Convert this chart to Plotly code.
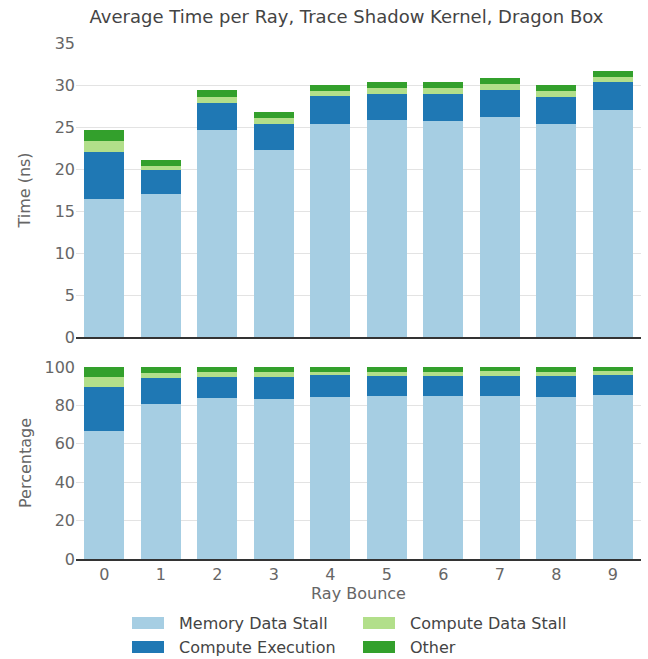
import plotly.graph_objects as go
from plotly.subplots import make_subplots

bounces = ["0", "1", "2", "3", "4", "5", "6", "7", "8", "9"]
memory_stall = [16.47, 17.06, 24.68, 22.30, 25.40, 25.87, 25.75, 26.23, 25.40, 27.06]
compute_exec = [5.59, 2.86, 3.22, 3.10, 3.33, 3.10, 3.22, 3.21, 3.21, 3.34]
compute_stall = [1.31, 0.48, 0.71, 0.71, 0.60, 0.71, 0.71, 0.72, 0.72, 0.59]
other = [1.31, 0.71, 0.83, 0.72, 0.71, 0.72, 0.72, 0.71, 0.71, 0.72]

series = [
    ("Memory Data Stall", memory_stall, "#a6cee3"),
    ("Compute Execution", compute_exec, "#1f78b4"),
    ("Compute Data Stall", compute_stall, "#b2df8a"),
    ("Other", other, "#33a02c"),
]
totals = [sum(v) for v in zip(memory_stall, compute_exec, compute_stall, other)]

W, H = 648, 659
ML, MR, MT, MB = 76, 7, 43, 100
PW, PH = W - ML - MR, H - MT - MB

fig = make_subplots(rows=2, cols=1, shared_xaxes=True)
for name, vals, color in series:
    fig.add_trace(go.Bar(x=bounces, y=vals, name=name, marker_color=color,
                         marker_line_width=0, showlegend=False), row=1, col=1)
    pct = [100 * v / t for v, t in zip(vals, totals)]
    fig.add_trace(go.Bar(x=bounces, y=pct, name=name, marker_color=color,
                         marker_line_width=0, showlegend=False), row=2, col=1)

tick_color = "#666666"
text_color = "#444444"
fig.update_layout(
    width=W, height=H,
    barmode="stack", bargap=0.29,
    plot_bgcolor="white", paper_bgcolor="white",
    font=dict(family="DejaVu Sans", size=16, color=tick_color),
    margin=dict(l=ML, r=MR, t=MT, b=MB, autoexpand=False),
    title=dict(text="Average Time per Ray, Trace Shadow Kernel, Dragon Box",
               xref="container", x=346.5 / W, xanchor="center",
               yref="container", y=1 - 17 / H, yanchor="middle",
               font=dict(size=18, color=text_color)),
    showlegend=False,
)
fig.update_layout(
    yaxis=dict(domain=[(559 - 337) / PH, 1.0]),
    yaxis2=dict(domain=[0.0, (559 - 367) / PH]),
)
fig.update_yaxes(showgrid=True, gridcolor="#e3e3e3", gridwidth=1, zeroline=False,
                 showline=False, ticks="", tickfont=dict(size=16, color=tick_color))
fig.update_yaxes(range=[0, 35], dtick=5, title_text="Time (ns)", title_standoff=20,
                 row=1, col=1)
fig.update_yaxes(range=[0, 100], dtick=20, title_text="Percentage", title_standoff=8,
                 row=2, col=1)
fig.update_xaxes(showline=True, linecolor="#333333", linewidth=1.5, ticks="",
                 showgrid=False, tickfont=dict(size=16, color=tick_color))
fig.update_xaxes(title_text="Ray Bounce", title_standoff=4, row=2, col=1)
fig.update_yaxes(title_font=dict(size=16, color=tick_color))
fig.update_xaxes(title_font=dict(size=16, color=tick_color))

# Manual legend (two columns, column-major order)
legend_pos = {
    "Memory Data Stall": (132, 623),
    "Compute Execution": (132, 647),
    "Compute Data Stall": (363, 623),
    "Other": (363, 647),
}
def px(x):
    return (x - ML) / PW
def py(y):
    return (H - MB - y) / PH
for name, vals, color in series:
    sx, sy = legend_pos[name]
    fig.add_shape(type="rect", xref="paper", yref="paper",
                  x0=px(sx), x1=px(sx + 32), y0=py(sy - 6), y1=py(sy + 6),
                  fillcolor=color, line_width=0)
    fig.add_annotation(text=name, xref="paper", yref="paper",
                       x=px(sx + 45), y=py(sy), xanchor="left", yanchor="middle",
                       showarrow=False, font=dict(size=16, color=text_color))

fig.write_html("out.html", config={"displayModeBar": False},
               post_script="document.body.style.margin='0';document.body.style.overflow='hidden';")
